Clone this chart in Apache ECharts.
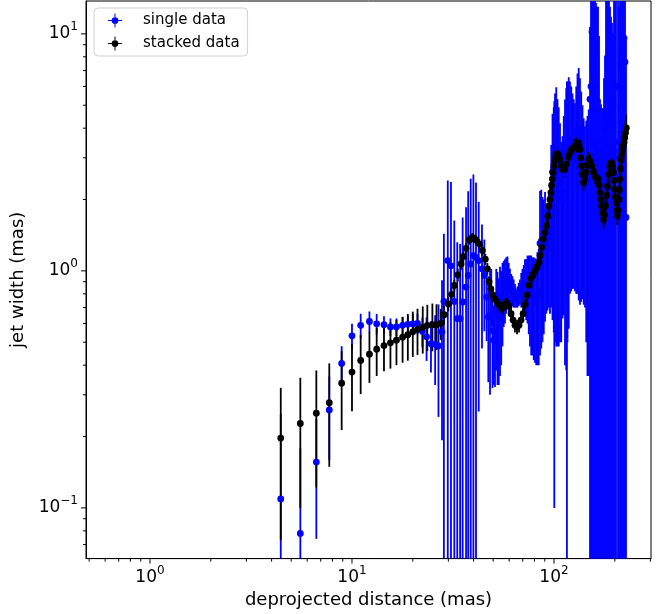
<!DOCTYPE html>
<html>
<head>
<meta charset="utf-8">
<script src="https://cdn.jsdelivr.net/npm/echarts@6/dist/echarts.min.js"></script>
<style>
html, body { margin: 0; padding: 0; background: #fff; }
#chart { width: 667px; height: 614px; }
</style>
</head>
<body>
<div id="chart"></div>
<script>
var xMin = 0.4823, xMax = 302.1, yMin = 0.0611, yMax = 13.76;

// single data: distance, width, error
var singleDist = [4.44, 5.55, 6.66, 7.72, 8.89, 10.0, 11.04, 12.2, 13.25, 14.4, 15.5, 16.6, 17.8, 18.9, 20.0, 21.1, 22.3, 23.4, 24.6, 25.8, 26.8, 27.9, 28.5, 29.8, 30.9, 32.1, 33.2, 34.3, 35.3, 36.7, 37.6, 38.7, 39.9, 41.1, 42.4, 44.0, 45.2, 46.4, 47.3,
  48.22, 48.91, 49.61, 50.32, 51.04, 51.77, 52.51, 53.27, 54.03, 54.80, 55.59, 56.38, 57.19, 58.01, 58.84, 59.69, 60.54, 61.41, 62.29, 63.18,
  64.09, 65.01, 65.94, 66.89, 67.85, 68.82, 69.81, 70.81, 71.82, 72.85, 73.90, 74.99, 76.04, 77.13, 78.24, 79.36, 80.50, 81.65, 82.82, 84.01,
  85.27, 86.49, 87.73, 88.99, 90.27, 91.56, 92.88, 94.21, 95.55, 96.92, 98.30, 99.72, 100.34, 101.15, 102.60, 104.07, 105.56, 107.08, 108.61, 110.17, 111.75,
  113.35, 114.97, 115.85, 116.62, 118.30, 119.99, 121.71, 123.46, 125.23, 127.02, 128.84, 130.69, 132.56, 134.46, 136.39, 138.35, 140.33, 142.34, 144.38, 146.45, 148.55,
  150.75, 152.48, 154.22, 155.99, 157.78, 159.59, 161.42, 163.27, 165.14, 167.03, 168.95, 170.88, 172.84, 174.82, 176.83, 178.85, 180.90, 182.98,
  185.07, 187.19, 189.34, 191.51, 193.70, 195.92, 198.17, 200.44, 202.73, 207.41, 209.78, 212.19, 214.62, 217.08, 219.56, 222.08, 224.63, 227.20];
var singleWidth = [0.109, 0.078, 0.156, 0.259, 0.407, 0.532, 0.589, 0.612, 0.598, 0.593, 0.580, 0.580, 0.589, 0.595, 0.598, 0.600, 0.556, 0.527, 0.493, 0.490, 0.482, 0.553, 0.743, 1.105, 1.05, 0.743, 0.629, 0.629, 0.739, 0.854, 0.956, 1.07, 1.16, 1.14, 1.105, 1.02, 0.956, 0.775, 0.639,
  0.65, 0.80, 0.56, 0.51, 0.544, 0.70, 0.66, 0.63, 0.70, 0.70, 0.78, 0.84, 0.86, 0.90, 0.92, 0.88, 0.86, 0.84, 0.83, 0.81,
  0.79, 0.77, 0.78, 0.80, 0.82, 0.84, 0.86, 0.86, 0.88, 0.87, 0.88, 0.85, 0.82, 0.80, 0.79, 0.78, 0.77, 0.76, 0.80, 0.82,
  1.305, 1.335, 1.275, 1.27, 1.38, 1.255, 1.24, 1.4, 1.48, 2.05, 2.61, 2.725, 2.65, 3.05, 3.22, 2.89, 2.69, 2.35, 2.0, 2.165, 2.575,
  2.84, 3.14, 3.1, 3.4, 3.565, 3.55, 3.41, 3.22, 3.07, 2.96, 3.4, 3.8, 3.965, 3.61, 3.22, 2.88, 2.56, 2.39, 2.4, 2.43, 2.58,
  5.3, 6, 10.2, 4.79, 3.42, 3.0, 3.5, 2.6, 3.2, 2.8, 2.6, 2.5, 2.4, 2.4, 3.0, 4.0, 4.5, 4.71,
  4.3, 3.5, 3.0, 2.8, 3.1, 5.0, 3.2, 3.5, 2.5, 6.0, 3.0, 3.5, 7.5, 5.0, 8.6, 9.6, 7.6, 1.68];
var singleErr = [0.14, 0.10, 0.082, 0.10, 0.074, 0.067, 0.07, 0.062, 0.06, 0.05, 0.05, 0.05, 0.05, 0.05, 0.06, 0.06, 0.08, 0.11, 0.12, 0.16, 0.24, 0.36, 0.69, 1.30, 1.32, 0.89, 0.69, 0.67, 0.94, 1.0, 1.21, 1.38, 1.39, 1.22, 0.85, 0.55, 0.4, 0.27, 0.30,
  0.35, 0.22, 0.24, 0.18, 0.22, 0.32, 0.33, 0.30, 0.34, 0.30, 0.30, 0.26, 0.26, 0.24, 0.23, 0.20, 0.16, 0.13, 0.12, 0.11,
  0.09, 0.07, 0.08, 0.09, 0.10, 0.14, 0.16, 0.20, 0.24, 0.25, 0.28, 0.31, 0.34, 0.36, 0.35, 0.36, 0.36, 0.36, 0.40, 0.42,
  0.865, 0.865, 0.775, 0.73, 0.77, 0.595, 0.56, 0.7, 0.82, 1.35, 1.99, 2.175, 2.55, 2.55, 2.74, 2.41, 2.21, 1.85, 1.5, 1.535, 1.925,
  2.44, 2.76, 3.2, 2.9, 2.995, 2.75, 2.59, 2.38, 2.23, 2.14, 2.6, 3.0, 3.215, 2.89, 2.48, 2.12, 1.84, 1.69, 1.9, 2.07, 2.22,
  5.4, 12, 10.5, 12, 11, 11, 10, 10.4, 9.8, 7, 2.7, 2.55, 2.45, 2.45, 3.5, 4.1, 12, 12,
  11, 11, 10, 9, 8, 5.1, 12, 12, 12, 12, 10, 11, 11, 12, 12, 12, 12, 8];

// stacked data: distance, width, error
var stackedDist = [4.44, 5.55, 6.66, 7.72, 8.89, 10.0, 11.04, 12.2, 13.25, 14.4, 15.5, 16.6, 17.8, 18.9, 20.0, 21.1, 22.4, 23.6, 25.0, 26.2, 27.5, 28.6, 30.0, 31.1, 32.1, 33.4, 34.7, 35.6, 36.7, 38.1, 39.4, 41.0, 42.7, 44.2, 45.7, 46.8, 47.7,
  48.7, 49.8, 51.0, 52.2, 53.4, 54.6, 55.9, 57.2, 58.5, 59.9, 61.3, 62.7, 64.1, 65.6, 67.1, 68.7, 70.3, 71.9, 73.6, 75.3, 77.0, 78.8, 80.6, 82.5, 84.4,
  85.3, 86.9, 88.5, 90.2, 92.0, 93.2, 94.4, 96.6, 98.1, 100, 102, 105, 109, 113, 118, 122, 127, 132, 134.5, 137, 140, 144, 148, 154, 160, 166, 169, 172, 176, 180,
  184, 189, 193, 197, 200, 203, 206, 210, 212, 215, 218, 222, 226, 228,
  95.5, 97.3, 99, 101, 103.5, 107, 111, 115.5, 120, 124.5, 129.5, 133, 135.7, 138.5, 142, 146, 151, 157, 163, 167.5,
  170.5, 174, 178, 182, 186.5, 191, 195, 198.5, 201.5, 204.5, 208, 211, 213.5, 216.5, 220, 224];
var stackedWidth = [0.197, 0.227, 0.251, 0.278, 0.336, 0.374, 0.419, 0.445, 0.467, 0.484, 0.497, 0.510, 0.525, 0.538, 0.553, 0.567, 0.578, 0.589, 0.593, 0.593, 0.601, 0.653, 0.725, 0.796, 0.868, 0.962, 1.07, 1.15, 1.245, 1.35, 1.385, 1.354, 1.30, 1.22, 1.12, 1.02, 0.90,
  0.84, 0.79, 0.76, 0.74, 0.72, 0.70, 0.70, 0.72, 0.73, 0.71, 0.66, 0.62, 0.59, 0.58, 0.59, 0.62, 0.66, 0.72, 0.79, 0.87, 0.93, 0.96, 1.00, 1.04, 1.09,
  1.16, 1.26, 1.36, 1.45, 1.55, 1.70, 1.88, 2.14, 2.44, 2.77, 3.05, 3.10, 2.77, 2.68, 3.05, 3.25, 3.36, 3.47, 3.25, 2.77, 2.36, 2.60, 2.95, 2.77, 2.51, 2.44, 2.14, 1.88, 1.65, 1.88,
  2.28, 2.77, 2.86, 2.60, 2.21, 1.94, 1.71, 2.0, 2.44, 2.95, 3.25, 3.47, 3.83, 4.01,
  2.0, 2.3, 2.6, 2.92, 3.12, 2.95, 2.68, 2.82, 3.15, 3.3, 3.42, 3.4, 3.0, 2.55, 2.45, 2.8, 2.9, 2.62, 2.47, 2.3,
  2.0, 1.75, 1.72, 2.08, 2.55, 2.84, 2.75, 2.4, 2.05, 1.8, 1.8, 2.2, 2.7, 3.1, 3.36, 3.65];
var stackedErr = [0.124, 0.127, 0.129, 0.129, 0.123, 0.118, 0.117, 0.108, 0.107, 0.107, 0.11, 0.11, 0.115, 0.12, 0.12, 0.125, 0.13, 0.13, 0.135, 0.13, 0.09, 0.06, 0.05, 0.05, 0.05, 0.06, 0.06, 0.06, 0.06, 0.06, 0.06, 0.06, 0.06, 0.06, 0.06, 0.06, 0.05,
  0.05, 0.05, 0.05, 0.04, 0.04, 0.04, 0.04, 0.04, 0.04, 0.04, 0.04, 0.04, 0.04, 0.04, 0.04, 0.04, 0.04, 0.04, 0.05, 0.05, 0.06, 0.06, 0.07, 0.07, 0.08,
  0.08, 0.09, 0.1, 0.1, 0.11, 0.12, 0.13, 0.15, 0.17, 0.19, 0.21, 0.22, 0.2, 0.2, 0.22, 0.24, 0.25, 0.26, 0.24, 0.21, 0.18, 0.2, 0.22, 0.21, 0.19, 0.19, 0.17, 0.15, 0.14, 0.15,
  0.18, 0.22, 0.23, 0.21, 0.18, 0.16, 0.15, 0.17, 0.21, 0.26, 0.3, 0.35, 0.45, 0.55,
  0.14, 0.16, 0.18, 0.2, 0.21, 0.21, 0.2, 0.21, 0.23, 0.25, 0.26, 0.25, 0.22, 0.19, 0.19, 0.21, 0.2, 0.19, 0.18, 0.16,
  0.14, 0.14, 0.15, 0.2, 0.22, 0.23, 0.22, 0.19, 0.17, 0.15, 0.16, 0.19, 0.23, 0.28, 0.33, 0.4];

var xMajorTicks = [1, 10, 100];
var xMinorTicks = [0.5, 0.6, 0.7, 0.8, 0.9, 2, 3, 4, 5, 6, 7, 8, 9, 20, 30, 40, 50, 60, 70, 80, 90, 200, 300];
var yMajorTicks = [0.1, 1, 10];
var yMinorTicks = [0.07, 0.08, 0.09, 0.2, 0.3, 0.4, 0.5, 0.6, 0.7, 0.8, 0.9, 2, 3, 4, 5, 6, 7, 8, 9];

var FONT = 'DejaVu Sans';
var errIcon = 'path://M9.3,0H10.7V20H9.3Z M0,9.3H20V10.7H0Z M5.2,10A4.8,4.8,0,1,1,14.8,10A4.8,4.8,0,1,1,5.2,10Z';

function clampY(v) {
  return Math.min(yMax, Math.max(yMin, v));
}

function barData(dist, width, err) {
  return dist.map(function (d, i) {
    var lo = width[i] - err[i];
    return [d, lo > yMin ? lo : yMin, clampY(width[i] + err[i])];
  });
}

function pointData(dist, width) {
  return dist.map(function (d, i) { return [d, width[i]]; });
}

function barRenderer(color, lw) {
  return function (params, api) {
    var a = api.coord([api.value(0), api.value(1)]);
    var b = api.coord([api.value(0), api.value(2)]);
    return {
      type: 'line',
      shape: { x1: a[0], y1: a[1], x2: b[0], y2: b[1] },
      style: { stroke: color, lineWidth: lw }
    };
  };
}

function tickRenderer(onX) {
  return function (params, api) {
    var len = api.value(2) ? 5 : 3;
    var p = api.coord([api.value(0), api.value(1)]);
    var shape = onX
      ? { x1: p[0], y1: p[1], x2: p[0], y2: p[1] + len }
      : { x1: p[0] - len, y1: p[1], x2: p[0], y2: p[1] };
    return { type: 'line', shape: shape, style: { stroke: '#000', lineWidth: 1 } };
  };
}

var xTickData = xMajorTicks.map(function (v) { return [v, yMin, 1]; })
  .concat(xMinorTicks.map(function (v) { return [v, yMin, 0]; }));
var yTickData = yMajorTicks.map(function (v) { return [xMin, v, 1]; })
  .concat(yMinorTicks.map(function (v) { return [xMin, v, 0]; }));

function logLabel(v) {
  var l = Math.log10(v);
  var e = Math.round(l);
  if (Math.abs(l - e) > 1e-6) return '';
  return '{b|10}{s|' + (e < 0 ? '\u2212' + (-e) : e) + '}';
}

var labelRich = {
  b: { fontSize: 17, lineHeight: 26, fontFamily: FONT, color: '#000' },
  s: { fontSize: 12, lineHeight: 13, fontFamily: FONT, color: '#000', verticalAlign: 'top' }
};

var chart = echarts.init(document.getElementById('chart'));

chart.setOption({
  animation: false,
  backgroundColor: '#fff',
  grid: {
    left: 86, top: 1, width: 565, height: 560,
    show: true, borderColor: '#000', borderWidth: 1, backgroundColor: 'transparent'
  },
  legend: {
    data: [{ name: 'single data', icon: errIcon }, { name: 'stacked data', icon: errIcon }],
    orient: 'vertical',
    left: 94, top: 8,
    itemWidth: 14, itemHeight: 14, itemGap: 8,
    padding: [5, 8, 5, 14],
    backgroundColor: '#fff',
    borderColor: '#d0d0d0', borderWidth: 1, borderRadius: 4,
    textStyle: { fontSize: 15, color: '#000', fontFamily: FONT, padding: [0, 0, 0, 16] }
  },
  xAxis: {
    type: 'log', logBase: 10, min: xMin, max: xMax,
    name: 'deprojected distance (mas)', nameLocation: 'middle', nameGap: 26,
    nameTextStyle: { fontSize: 18, color: '#000', fontFamily: FONT },
    axisLine: { show: true, lineStyle: { color: '#000', width: 1 } },
    axisTick: { show: false },
    splitLine: { show: false },
    axisLabel: { margin: 6, formatter: logLabel, rich: labelRich, showMinLabel: false, showMaxLabel: false }
  },
  yAxis: {
    type: 'log', logBase: 10, min: yMin, max: yMax,
    name: 'jet width (mas)', nameLocation: 'middle', nameGap: 52,
    nameTextStyle: { fontSize: 18, color: '#000', fontFamily: FONT },
    axisLine: { show: true, lineStyle: { color: '#000', width: 1 } },
    axisTick: { show: false },
    splitLine: { show: false },
    axisLabel: { margin: 8, formatter: logLabel, rich: labelRich, showMinLabel: false, showMaxLabel: false }
  },
  series: [
    {
      name: 'single bars', type: 'custom', silent: true,
      renderItem: barRenderer('#0000ff', 1.8),
      encode: { x: 0, y: [1, 2] },
      data: barData(singleDist, singleWidth, singleErr)
    },
    {
      name: 'stacked bars', type: 'custom', silent: true,
      renderItem: barRenderer('#000000', 1.8),
      encode: { x: 0, y: [1, 2] },
      data: barData(stackedDist, stackedWidth, stackedErr)
    },
    {
      name: 'single data', type: 'scatter', silent: true,
      symbol: 'circle', symbolSize: 6.8,
      itemStyle: { color: '#0000ff', opacity: 1 },
      data: pointData(singleDist, singleWidth)
    },
    {
      name: 'stacked data', type: 'scatter', silent: true,
      symbol: 'circle', symbolSize: 6.8,
      itemStyle: { color: '#000000', opacity: 1 },
      data: pointData(stackedDist, stackedWidth)
    },
    {
      name: 'x ticks', type: 'custom', silent: true,
      renderItem: tickRenderer(true),
      encode: { x: 0, y: 1 },
      data: xTickData
    },
    {
      name: 'y ticks', type: 'custom', silent: true,
      renderItem: tickRenderer(false),
      encode: { x: 0, y: 1 },
      data: yTickData
    }
  ]
});
</script>
</body>
</html>
